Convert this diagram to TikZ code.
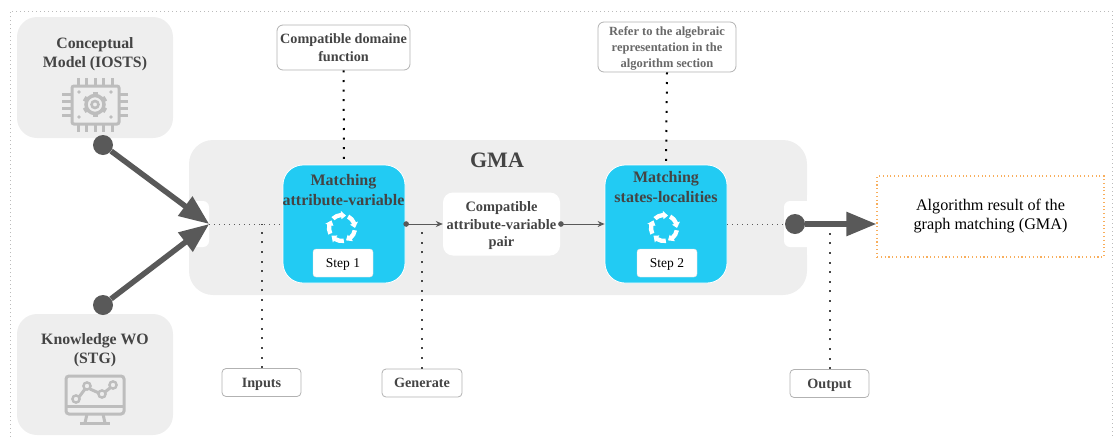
\documentclass[tikz,border=0pt]{standalone}
\usepackage{fontspec}
\setmainfont{Liberation Serif}
\usetikzlibrary{arrows.meta,positioning}
\definecolor{panelgray}{HTML}{EEEEEE}
\definecolor{stepblue}{HTML}{22CBF3}
\definecolor{darktxt}{HTML}{444444}
\definecolor{arrowgray}{HTML}{595959}
\definecolor{icongray}{HTML}{BDBDBD}
\definecolor{framegray}{HTML}{BBBBBB}
\definecolor{resultorange}{HTML}{F8AE5C}

\begin{document}
\begin{tikzpicture}[
      x=1pt,y=-1pt,
      graybox/.style={
         rectangle,
         rounded corners=20pt,
         fill=panelgray,
         inner sep=0pt},
      bluebox/.style={
         rectangle,
         rounded corners=20pt,
         fill=stepblue,
         draw=white,
         line width=0.8pt,
         inner sep=0pt,
         minimum width=122pt,
         minimum height=118pt},
      whitebox/.style={
         rectangle,
         rounded corners=6pt,
         fill=white,
         inner sep=0pt},
      stepbox/.style={
         rectangle,
         rounded corners=3pt,
         fill=white,
         draw=black!12,
         inner sep=0pt,
         text depth=0pt,
         minimum width=60pt,
         minimum height=28pt,
         font=\fontsize{13.5}{15}\selectfont},
      notebox/.style={
         rectangle,
         rounded corners=6pt,
         fill=white,
         draw=black!30,
         line width=0.8pt,
         inner sep=0pt,
         text depth=-2pt,
         align=center,
         text=darktxt,
         font=\bfseries\fontsize{14.2}{18}\selectfont},
      boxtitle/.style={
         align=center,
         text=darktxt,
         inner sep=0pt,
         font=\bfseries\fontsize{15.8}{19}\selectfont},
      bigarrow/.style={
         draw=arrowgray,
         line width=5.5pt,
         -{Triangle[length=30pt,width=23pt]}},
      smallarrow/.style={
         draw=arrowgray,
         line width=1pt,
         {Circle[length=5.5pt]}-{Stealth[length=7pt,width=6pt]},
         shorten <=-2pt},
      bigdot/.style={
         circle,
         fill=arrowgray,
         inner sep=0pt,
         minimum size=20pt},
      thindots/.style={
         draw=arrowgray,
         line width=1pt,
         dash pattern=on 1pt off 4pt},
      fatdots/.style={
         draw=arrowgray!80!black,
         line width=2pt,
         dash pattern=on 2pt off 7.6pt},
      blackdots/.style={
         draw=black,
         line width=2pt,
         dash pattern=on 2pt off 7.6pt},
      iconline/.style={
         draw=icongray,
         line width=3pt}
      ]
      \useasboundingbox (0,0) rectangle (1114,437);
      \clip (0,0) rectangle (1114,437);
      \draw[framegray,line width=1pt,dash pattern=on 1pt off 3pt]
         (10,437) -- (10,11) -- (1112,11) -- (1112,437);
      % panels
      \node[graybox,minimum width=156pt,minimum height=121pt] (concept) at (95,77.5) {};
      \node[graybox,minimum width=156pt,minimum height=121pt] (knowledge) at (95,374.5) {};
      \node[graybox,rounded corners=24pt,minimum width=618pt,minimum height=155pt] (gma) at (498,217.5) {};
      \node[whitebox,minimum width=40pt,minimum height=46pt] (gapin) at (189,224) {};
      \node[whitebox,minimum width=46pt,minimum height=46pt] (gapout) at (807,224) {};
      \fill[white] (807,195) rectangle (830,255);
      \node[boxtitle] (concepttxt) at (95,54.5) {Conceptual\\Model (IOSTS)};
      \node[boxtitle] (knowledgetxt) at (95,350.5) {Knowledge WO\\(STG)};
      \node[boxtitle,font=\bfseries\fontsize{22}{24}\selectfont] (gmatxt) at (497,160) {GMA};
      % matching steps
      \node[bluebox] (match1) at (344,224) {};
      \node[bluebox] (match2) at (666,224) {};
      \node[boxtitle,font=\bfseries\fontsize{16}{20}\selectfont] (match1txt) at (343.5,190) {Matching\\attribute-variable};
      \node[boxtitle,font=\bfseries\fontsize{16}{20}\selectfont] (match2txt) at (666,187) {Matching\\states-localities};
      \node[stepbox] (step1) at (343,263) {Step 1};
      \node[stepbox] (step2) at (667,263) {Step 2};
      \node[whitebox,rounded corners=10pt,minimum width=117pt,minimum height=63pt,align=center,text depth=0pt,
         text=darktxt,font=\bfseries\fontsize{14.4}{17.5}\selectfont] (pair) at (501.5,224)
         {Compatible\\attribute-variable\\pair};
      % notes and result
      \node[notebox,text depth=-4pt,minimum width=133pt,minimum height=45pt] (note1) at (343.5,47.5) {Compatible domaine\\function};
      \node[notebox,minimum width=138pt,minimum height=50pt,text=darktxt!80,font=\bfseries\fontsize{12.5}{15.7}\selectfont] (note2) at (667,47)
         {Refer to the algebraic\\representation in the\\algorithm section};
      \node[notebox,rounded corners=4pt,minimum width=79pt,minimum height=28pt] (inputs) at (261.5,382.5) {Inputs};
      \node[notebox,rounded corners=4pt,minimum width=80pt,minimum height=28pt] (generate) at (422,383) {Generate};
      \node[notebox,rounded corners=4pt,minimum width=79pt,minimum height=28pt] (output) at (829.5,383.5) {Output};
      \node[rectangle,draw=resultorange,line width=1.1pt,dash pattern=on 1.1pt off 2.7pt,inner sep=0pt,
         minimum width=227pt,minimum height=81pt,align=center,
         font=\fontsize{16.2}{19}\selectfont] (result) at (990.5,216.5)
         {Algorithm result of the\\graph matching (GMA)};
      \node[bigdot] (dot1) at (103,145) {};
      \node[bigdot] (dot2) at (103,305) {};
      \node[bigdot] (dot3) at (795,224) {};
      \coordinate (tapin) at (inputs.north |- gapin.east);
      \coordinate (tapgen) at (generate.north |- gapin.east);
      \coordinate (tapout) at (output.north |- gapin.east);
      \coordinate (resultin) at (dot3 -| result.west);
      \foreach \i/\j/\s in {
        gapin.east/match1.west/thindots,
        match2.east/dot3.west/thindots,
        inputs.north/tapin/fatdots,
        generate.north/tapgen/fatdots,
        output.north/tapout/fatdots,
        note1.south/match1.north/blackdots,
        note2.south/match2.north/blackdots}
         \draw [\s] (\i) -- (\j);
      \foreach \i/\j/\s in {
        dot1/gapin.east/bigarrow,
        dot2/gapin.east/bigarrow,
        dot3/resultin/bigarrow,
        match1.east/pair.west/smallarrow,
        pair.east/match2.west/smallarrow}
         \draw [\s] (\i) -- (\j);
      % cycle marks
      \foreach \cx in {342,664}
        \foreach \a in {10,82,...,298}
          \fill[white,shift={(\cx,228)}] (\a:10.8) arc[start angle=\a,end angle=\a+40,radius=10.8]
             -- (\a+40:8.8) -- (\a+62:13) -- (\a+40:17.2) -- (\a+40:15.2)
             arc[start angle=\a+40,end angle=\a,radius=15.2] -- cycle;
      % chip icon
      \draw[iconline,rounded corners=2pt] (72,86) rectangle (119,124);
      \foreach \t in {0,1,2,3} {
        \draw[iconline] (62,{94+\t*7}) -- (71,{94+\t*7});
        \draw[iconline] (120,{94+\t*7}) -- (128,{94+\t*7});
      }
      \foreach \t in {0,1,2,3,4} {
        \draw[iconline] ({78+\t*8.5},78) -- ({78+\t*8.5},85);
        \draw[iconline] ({78+\t*8.5},125) -- ({78+\t*8.5},132);
      }
      \foreach \px/\py in {79/92,79/117,111/92,111/117}
        \fill[icongray] (\px,\py) circle[radius=1.8];
      \draw[iconline,line width=3.5pt] (95,104.5) circle[radius=9];
      \draw[iconline,line width=2.6pt] (95,104.5) circle[radius=3.5];
      \foreach \a in {30,90,...,330}
        \draw[iconline,line width=5pt] ({95+9*cos(\a)},{104.5+9*sin(\a)}) -- ({95+12.5*cos(\a)},{104.5+12.5*sin(\a)});
      % monitor icon
      \draw[iconline,rounded corners=3pt] (66,376) rectangle (124,414);
      \draw[iconline] (66,406) -- (124,406);
      \draw[iconline] (87,414) -- (85,423);
      \draw[iconline] (103,414) -- (105,423);
      \draw[iconline] (80,423) -- (110,423);
      \draw[iconline] (79,397) -- (85,389);
      \draw[iconline] (90,389) -- (99,393);
      \draw[iconline] (105,392) -- (110,388);
      \foreach \px/\py in {76/399,87/386,102/394,113/385}
        \draw[iconline,line width=2.4pt] (\px,\py) circle[radius=3.6];
\end{tikzpicture}
\end{document}
